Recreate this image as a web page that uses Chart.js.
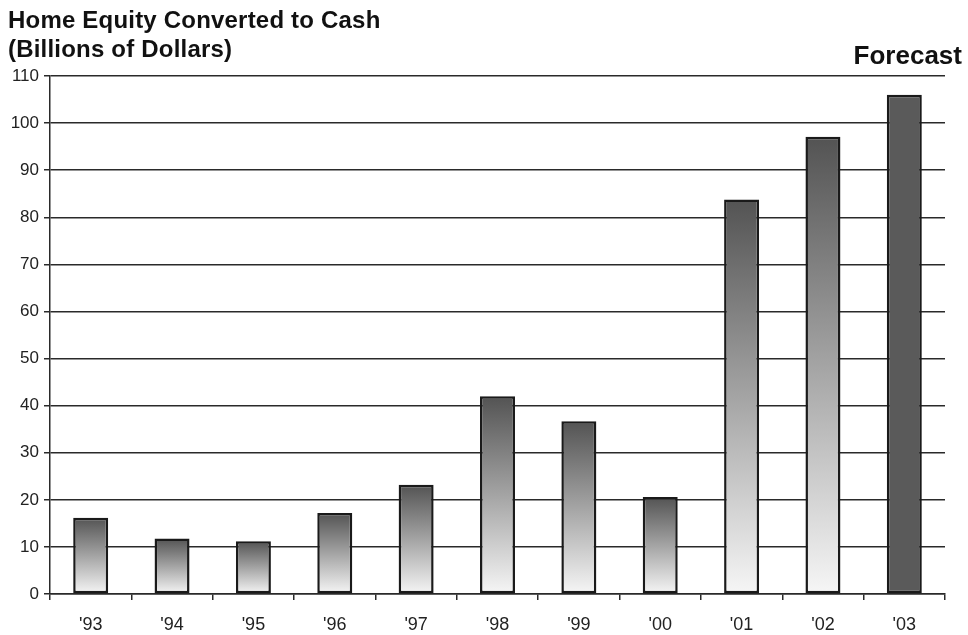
<!DOCTYPE html>
<html>
<head>
<meta charset="utf-8">
<script src="https://cdn.jsdelivr.net/npm/chart.js@4.4.1/dist/chart.umd.min.js"></script>
<style>
  html, body { margin: 0; padding: 0; background: #fff; }
  #wrap { position: relative; width: 968px; height: 635px; }
  #heading {
    position: absolute; left: 8px; top: 5px;
    font: bold 24px "Liberation Sans", Arial, sans-serif; color: #111; line-height: 29px;
    letter-spacing: 0.2px;
  }
  #forecast {
    position: absolute; right: 6px; top: 40px;
    font: bold 26px "Liberation Sans", Arial, sans-serif; color: #111;
  }
</style>
</head>
<body>
<div id="wrap">
  <canvas id="chart" width="968" height="635"></canvas>
  <div id="heading">Home Equity Converted to Cash<br>(Billions of Dollars)</div>
  <div id="forecast">Forecast</div>
</div>
<script>
// years and billions of dollars converted
const years = ["'93", "'94", "'95", "'96", "'97", "'98", "'99", "'00", "'01", "'02", "'03"];
const cashOut = [16.2, 11.8, 11.2, 17.2, 23.2, 42, 36.7, 20.6, 83.8, 97.1, 106];
const forecastFrom = 10; // index of first forecast year

const yMin = 0;
const yMax = 110;
const yStep = 10;

const ink = "#2a2a2a";
const font = "'Liberation Sans', Arial, sans-serif";

// dark top fading to white at the base, solid for forecast bars
function barFill(ctx) {
    const chart = ctx.chart;
    if (!chart.chartArea || !chart.scales.y) return "#5a5a5a";
    if (ctx.dataIndex >= forecastFrom) return "#5a5a5a";
    const y = chart.scales.y;
    const top = y.getPixelForValue(ctx.raw);
    const base = y.getPixelForValue(0);
    const g = chart.ctx.createLinearGradient(0, top, 0, base);
    g.addColorStop(0, "#535353");
    g.addColorStop(0.5, "#a4a4a4");
    g.addColorStop(1, "#f6f6f6");
    return g;
}

new Chart(document.getElementById("chart"), {
    type: "bar",
    data: {
        labels: years,
        datasets: [{
            data: cashOut,
            backgroundColor: barFill,
            borderColor: "#1a1a1a",
            borderWidth: 2.5,
            borderSkipped: false,
            categoryPercentage: 1,
            barPercentage: 0.43,
        }],
    },
    options: {
        responsive: false,
        animation: false,
        events: [],
        layout: { padding: { top: 76, right: 23, bottom: 0, left: 0 } },
        plugins: {
            legend: { display: false },
            tooltip: { enabled: false },
        },
        scales: {
            x: {
                grid: {
                    offset: true,
                    drawOnChartArea: false,
                    drawTicks: true,
                    tickLength: 6,
                    color: ink,
                    lineWidth: 1.5,
                },
                border: { color: ink, width: 1.5 },
                ticks: {
                    color: "#222",
                    font: { family: font, size: 18 },
                    padding: 14,
                },
                afterFit: (s) => { s.height = 41; },
            },
            y: {
                min: yMin,
                max: yMax,
                grid: {
                    color: ink,
                    lineWidth: 1.5,
                    tickLength: 6,
                },
                border: { color: ink, width: 1.5 },
                ticks: {
                    stepSize: yStep,
                    color: "#222",
                    font: { family: font, size: 17 },
                    padding: 5,
                },
                afterFit: (s) => { s.width = 50; },
            },
        },
    },
});
</script>
</body>
</html>
